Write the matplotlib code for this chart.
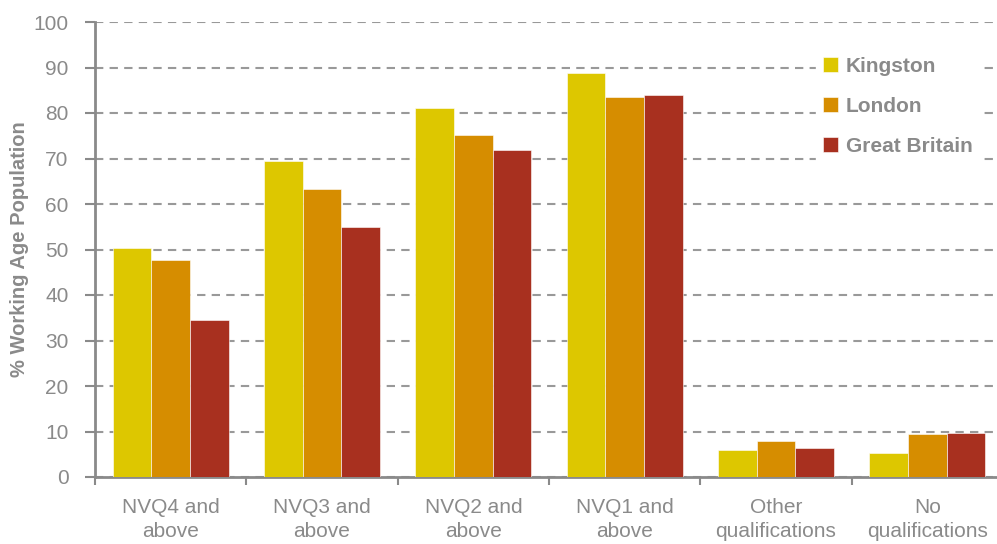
import matplotlib
matplotlib.use("Agg")
import matplotlib.pyplot as plt
import numpy as np

categories = ["NVQ4 and\nabove", "NVQ3 and\nabove", "NVQ2 and\nabove", "NVQ1 and\nabove",
              "Other\nqualifications", "No\nqualifications"]
series_names = ["Kingston", "London", "Great Britain"]
kingston = [50.3, 69.5, 81.1, 88.8, 5.9, 5.3]
london = [47.7, 63.3, 75.2, 83.5, 7.9, 9.5]
great_britain = [34.5, 55.0, 71.9, 84.0, 6.4, 9.7]
colors = ["#DDC700", "#D68D00", "#A8301F"]
grey = "#8A8A8A"

plt.rcParams['font.family'] = ['Liberation Sans', 'DejaVu Sans']

fig = plt.figure(figsize=(9.97, 5.44), dpi=100)
ax = fig.add_axes([95/997, 1-477/544, 908/997, (477-22)/544])

x = np.arange(len(categories))
w = 0.255
for i, (vals, name) in enumerate(zip([kingston, london, great_britain], series_names)):
    ax.bar(x + (i-1)*w, vals, width=w, color=colors[i], label=name, zorder=3,
           edgecolor="white", linewidth=0.4)

ax.set_xlim(-0.5, len(categories)-0.5)
ax.set_ylim(0, 100)
ax.set_yticks(range(0, 101, 10))
ax.yaxis.grid(True, linestyle=(0, (4, 3)), color="#999999", linewidth=1.5, zorder=0)
ax.set_axisbelow(True)

ax.set_xticks(x)
ax.set_xticklabels(categories, fontsize=15, color=grey, linespacing=1.35)
ax.set_xticks(np.arange(-0.5, len(categories), 1), minor=True)
ax.tick_params(axis='x', which='major', length=0, pad=15)
ax.tick_params(axis='x', which='minor', length=6, width=1.5, color=grey, direction='out')
ax.tick_params(axis='y', length=7, width=1.5, color=grey, labelsize=15, labelcolor=grey, pad=12)

for s in ['top', 'right']:
    ax.spines[s].set_visible(False)
for s in ['left', 'bottom']:
    ax.spines[s].set_color(grey)
    ax.spines[s].set_linewidth(2)

ax.set_ylabel("% Working Age Population", fontsize=14.5, fontweight='bold', color=grey, labelpad=3)

leg = ax.legend(loc='upper left', bbox_to_anchor=(0.783, 0.96), frameon=True, fancybox=False,
                edgecolor='white', facecolor='white', framealpha=1, fontsize=15,
                handlelength=0.75, handleheight=0.75, handletextpad=0.35, labelspacing=1.0,
                borderpad=0.3)
for t in leg.get_texts():
    t.set_color(grey)
    t.set_fontweight('bold')

fig.savefig("out.png", dpi=100)
